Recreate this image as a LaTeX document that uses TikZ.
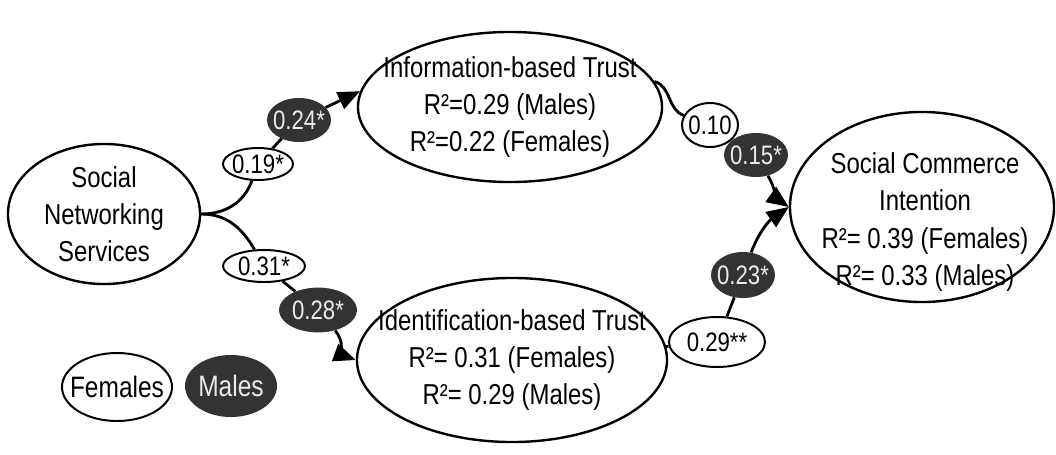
\documentclass[tikz,border=0pt]{standalone}
\usepackage{fontspec}
\setmainfont{Liberation Sans}[FakeStretch=0.83]
\usetikzlibrary{shapes.geometric,arrows.meta}
\definecolor{malefill}{HTML}{333333}

\begin{document}
\begin{tikzpicture}[x=0.025cm, y=0.025cm,
    latent/.style={ellipse, draw, line width=1.7pt, inner sep=-0.9cm, align=center, font=\fontsize{20.5}{26.5}\selectfont},
    fem/.style={ellipse, draw, fill=white, line width=1.4pt, inner xsep=-0.25cm, inner ysep=-0.2cm, font=\fontsize{19}{22}\selectfont},
    mal/.style={ellipse, fill=malefill, text=white!92!black, inner xsep=-0.25cm, inner ysep=-0.2cm, font=\fontsize{19}{22}\selectfont},
    link/.style={line width=2pt},
    arr/.style={line width=2pt, -{Triangle[length=0.55cm, width=0.45cm]}}]
        \useasboundingbox (0,0) rectangle (1056,-454);

        % Nodes
        \node[latent, minimum width=4.8cm, minimum height=3.5cm] (sns) at (104,-214) {Social\\Networking\\Services};
        \node[latent, minimum width=7.6cm, minimum height=3.75cm] (info) at (510,-107) {Information-based Trust\\R²=0.29 (Males)\\R²=0.22 (Females)};
        \node[latent, minimum width=7.75cm, minimum height=4.1cm] (ident) at (512,-360) {Identification-based Trust\\R²= 0.31 (Females)\\R²= 0.29 (Males)};
        \node[latent, minimum width=6.6cm, minimum height=4.75cm] (sci) at (922,-207) {};
        \node[align=center, font=\fontsize{20.5}{26.5}\selectfont] (scitext) at (925,-222) {Social Commerce\\Intention\\R²= 0.39 (Females)\\R²= 0.33 (Males)};

        \node[fem, minimum width=1.75cm, minimum height=0.8cm] (f1) at (258,-164) {0.19*};
        \node[mal, minimum width=1.6cm, minimum height=1.1cm] (m1) at (299,-120) {0.24*};
        \node[fem, minimum width=2.05cm, minimum height=0.8cm] (f2) at (264,-266) {0.31*};
        \node[mal, minimum width=1.95cm, minimum height=1.12cm] (m2) at (318,-310) {0.28*};
        \node[fem, minimum width=1.4cm, minimum height=1.1cm] (f3) at (710,-125) {0.10};
        \node[mal, minimum width=1.6cm, minimum height=1.1cm] (m3) at (756,-155) {0.15*};
        \node[mal, minimum width=1.6cm, minimum height=1.15cm] (m4) at (743,-275) {0.23*};
        \node[fem, minimum width=2.4cm, minimum height=1.25cm] (f4) at (717,-342) {0.29**};

        \node[fem, minimum width=2.75cm, minimum height=1.7cm, font=\fontsize{21}{24}\selectfont] (females) at (117,-387) {Females};
        \node[mal, minimum width=2.3cm, minimum height=1.55cm, font=\fontsize{21}{24}\selectfont] (males) at (231,-386) {Males};

        % Edges
        \draw[link] (sns.east) to[out=0, in=-110] (f1);
        \draw[link] (f1) -- (m1);
        \draw[arr] (m1) -- (info.174);
        \draw[link] (sns.east) to[out=0, in=120] (f2);
        \draw[link] (f2) -- (m2);
        \draw[arr] (m2) to[out=-50, in=160] (ident.west);
        \draw[link] (info.10) to[out=-15, in=160] (f3);
        \draw[link] (f3) -- (m3);
        \draw[arr] (m3) to[out=-60, in=145] (sci.west);
        \draw[link] (ident) -- (f4);
        \draw[link] (f4) -- (m4);
        \draw[arr] (m4) to[out=70, in=-145] (sci.west);
    \end{tikzpicture}
\end{document}
